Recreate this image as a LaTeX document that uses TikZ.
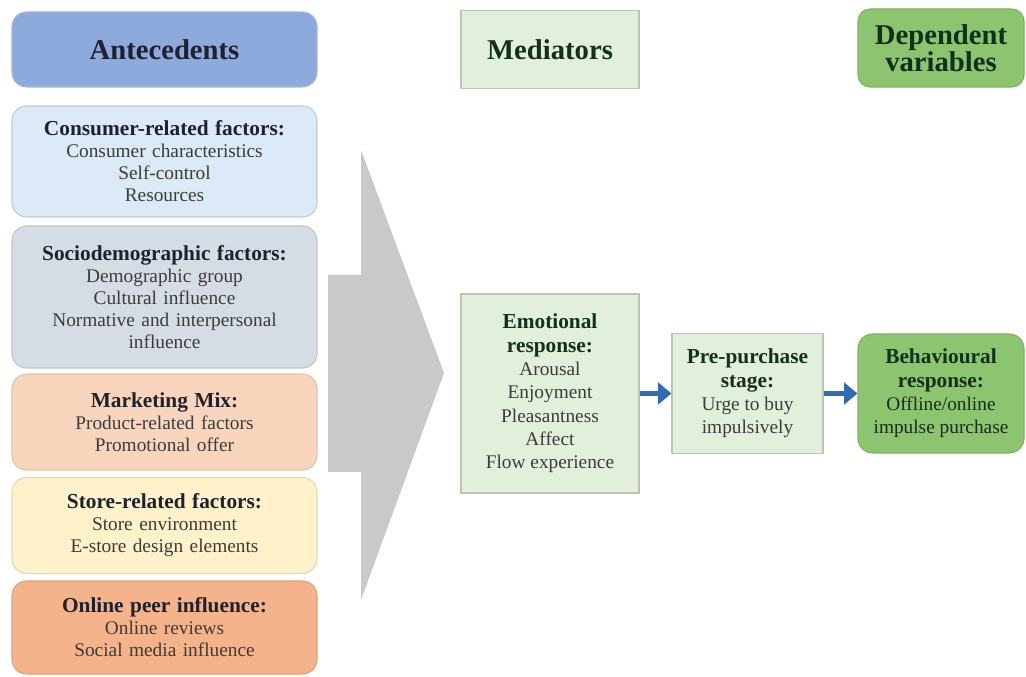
\documentclass[tikz,border=0pt]{standalone}
\usepackage{fontspec}
\setmainfont{Liberation Serif}
\usetikzlibrary{arrows.meta}
\definecolor{antfill}{HTML}{8EA9DB}
\definecolor{antdraw}{HTML}{A3B7DE}
\definecolor{consfill}{HTML}{DCE9F6}
\definecolor{consdraw}{HTML}{BCCBDC}
\definecolor{sociofill}{HTML}{D6DCE4}
\definecolor{sociodraw}{HTML}{BEC5CF}
\definecolor{mktfill}{HTML}{F9D5BE}
\definecolor{mktdraw}{HTML}{E2C2AE}
\definecolor{storefill}{HTML}{FFF1C9}
\definecolor{storedraw}{HTML}{E3D8B4}
\definecolor{onlfill}{HTML}{F4B38A}
\definecolor{onldraw}{HTML}{DDA27E}
\definecolor{medfill}{HTML}{E2EFDA}
\definecolor{meddraw}{HTML}{B9C6B0}
\definecolor{depfill}{HTML}{8DC46F}
\definecolor{depdraw}{HTML}{7FB263}
\definecolor{bigarrow}{HTML}{C9C9C9}
\definecolor{bluearrow}{HTML}{2E6DB4}
\definecolor{titletxt}{HTML}{1E2230}
\definecolor{bodytxt}{HTML}{3C3C3C}
\definecolor{greentxt}{HTML}{12301A}
\newcommand{\ttl}[1]{{\fontsize{16}{18}\selectfont\bfseries\color{titletxt}#1}}
\newcommand{\gttl}[1]{{\fontsize{16}{20}\selectfont\bfseries\color{greentxt}#1}}
\begin{document}
\begin{tikzpicture}[x=0.75pt,y=-0.75pt,
  lbox/.style={rounded corners=11pt, draw, line width=0.8pt, minimum width=228.75pt,
    text width=225pt, align=center, inner sep=0pt,
    font=\fontsize{14.5}{16.5}\selectfont, text=bodytxt},
  hdr/.style={draw, line width=0.8pt, align=center, inner sep=0pt,
    font=\fontsize{21.5}{20.5}\selectfont\bfseries},
  gbox/.style={draw=meddraw, fill=medfill, line width=0.8pt, align=center, inner sep=0pt,
    font=\fontsize{14.5}{17.5}\selectfont, text=bodytxt},
  flow/.style={draw=bluearrow, line width=3.5pt, -{Triangle[length=10pt,width=16pt]}}
]
\useasboundingbox (0,0) rectangle (1026,677);

% big gray arrow
\fill[bigarrow] (328,275) -- (361,275) -- (361,150) -- (444,373) -- (361,600) -- (361,472) -- (328,472) -- cycle;

% headers
\node[hdr, rounded corners=11pt, fill=antfill, draw=antdraw, text=titletxt,
  minimum width=228.75pt, minimum height=56.25pt] (ant) at (164.5,49.5) {Antecedents};
\node[hdr, fill=medfill, draw=meddraw, text=greentxt,
  minimum width=133.5pt, minimum height=59pt] (med) at (550,49.5) {Mediators};
\node[hdr, rounded corners=9pt, fill=depfill, draw=depdraw, text=greentxt,
  minimum width=124.5pt, minimum height=58.5pt] (dep) at (941,48) {Dependent\\variables};

% antecedent boxes
\node[lbox, fill=consfill, draw=consdraw, minimum height=83.25pt] (cons) at (164.5,161.5)
  {\ttl{Consumer-related factors:}\\Consumer characteristics\\Self-control\\Resources};
\node[lbox, fill=sociofill, draw=sociodraw, minimum height=106.5pt] (socio) at (164.5,297)
  {\ttl{Sociodemographic factors:}\\Demographic group\\Cultural influence\\Normative and interpersonal\\influence};
\node[lbox, fill=mktfill, draw=mktdraw, minimum height=72pt] (mkt) at (164.5,422)
  {\ttl{Marketing Mix:}\\Product-related factors\\Promotional offer};
\node[lbox, fill=storefill, draw=storedraw, minimum height=72pt] (store) at (164.5,525.5)
  {\ttl{Store-related factors:}\\Store environment\\E-store design elements};
\node[lbox, fill=onlfill, draw=onldraw, minimum height=69.75pt] (onl) at (164.5,627.5)
  {\ttl{Online peer influence:}\\Online reviews\\Social media influence};

% mediators and outcome
\node[gbox, minimum width=133.5pt, minimum height=149.25pt] (emo) at (550,393.5)
  {\gttl{Emotional}\\\gttl{response:}\\Arousal\\Enjoyment\\Pleasantness\\Affect\\Flow experience};
\node[gbox, minimum width=113.25pt, minimum height=90pt] (pre) at (747.5,393.5)
  {\gttl{Pre-purchase}\\\gttl{stage:}\\Urge to buy\\impulsively};
\node[gbox, rounded corners=11pt, fill=depfill, draw=depdraw, text=greentxt,
  minimum width=124.5pt, minimum height=89.25pt] (beh) at (941,393.5)
  {\gttl{Behavioural}\\\gttl{response:}\\Offline/online\\impulse purchase};

\draw[flow] (emo.east) -- (pre.west);
\draw[flow] (pre.east) -- (beh.west);
\end{tikzpicture}
\end{document}
